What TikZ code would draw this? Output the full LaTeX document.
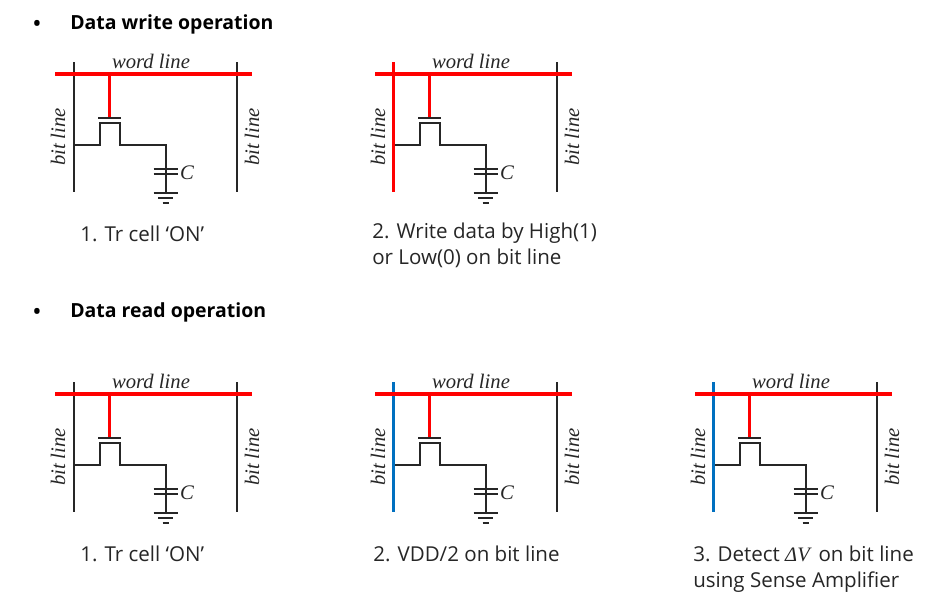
\documentclass[tikz,border=0pt]{standalone}
\usepackage{fontspec}
\setmainfont{Open Sans}
\newfontfamily\cellfont{Liberation Serif}
\usetikzlibrary{positioning, calc}
\definecolor{inkred}{HTML}{FF0000}
\definecolor{inkblue}{HTML}{0070C0}
\definecolor{inkwire}{HTML}{262626}
\tikzset{
  wire/.style={inkwire, line width=1.5pt},
  platewire/.style={inkwire, line width=1.2pt},
  wordwire/.style={inkred, line width=2.6pt},
  bitred/.style={inkred, line width=2.6pt},
  bitblue/.style={inkblue, line width=2.4pt},
  celltext/.style={font=\cellfont\itshape\fontsize{15.5}{17}\selectfont, inner sep=0pt, text=inkwire},
  caption/.style={anchor=north west, align=left, inner sep=0pt, text=inkwire,
                  font=\fontsize{15.4}{19.4}\selectfont},
  heading/.style={anchor=west, inner sep=0pt, text=black,
                  font=\bfseries\fontsize{14.6}{15}\selectfont}
}
% one memory cell: #1 left bit line style, #2 name, #3 shift
\newcommand{\dramcell}[3][wire]{%
  \begin{scope}[shift={(#3)}]
    \coordinate (#2bla) at (73.5,62);
    \coordinate (#2blb) at (73.5,192);
    \coordinate (#2bra) at (237,62);
    \coordinate (#2brb) at (237,192);
    \coordinate (#2wla) at (55,74);
    \coordinate (#2wlb) at (252,74);
    \coordinate (#2gate) at (109.5,74);
    \coordinate (#2gt) at (109.5,117);
    \coordinate (#2src) at (73.5,145);
    \coordinate (#2top) at (166,145);
    \coordinate (#2gnd) at (166,193);
    \draw[wire] (#2bra) -- (#2brb);
    \draw[wire] (#2src) -| (99.5,122.5) -- (120,122.5) |- (#2top) -- (#2gnd);
    \draw[platewire] (98,118) -- (121,118);
    \draw[#1] (#2bla) -- (#2blb);
    \draw[wordwire] (#2wla) -- (#2wlb);
    \draw[wordwire] (#2gate) -- (#2gt);
    \draw[wire] (153.5,169) -- (177.5,169);
    \draw[wire] (153.5,174) -- (177.5,174);
    \draw[wire] (153.5,193) -- (177.5,193);
    \draw[wire] (158,198) -- (173,198);
    \draw[wire] (162.5,202.5) -- (168.5,202.5);
    \node[celltext] (#2word) at (151,61) {word line};
    \node[celltext, rotate=90] (#2bitl) at (58,137) {bit line};
    \node[celltext, rotate=90] (#2bitr) at (252,137) {bit line};
    \node[celltext] (#2cap) at (187,173) {C};
  \end{scope}}

\begin{document}
\begin{tikzpicture}[x=0.75pt, y=-0.75pt]
  \useasboundingbox[fill=white] (0,0) rectangle (938,601);
  \node[heading] (bulletw) at (33,25) {•};
  \node[heading] (titlew) at (70,24) {Data write operation};
  \node[heading] (bulletr) at (33,313) {•};
  \node[heading] (titler) at (70,312) {Data read operation};

  \dramcell{wa}{0,0}
  \dramcell[bitred]{wb}{320,0}
  \dramcell{ra}{0,320}
  \dramcell[bitblue]{rb}{320,320}
  \dramcell[bitblue]{rc}{640,320}

  \node[caption] (capwa) at (80,226) {1. Tr cell ‘ON’};
  \node[caption] (capwb) at (372,223) {2. Write data by High(1)\\or Low(0) on bit line};
  \node[caption] (capra) at (80,546) {1. Tr cell ‘ON’};
  \node[caption] (caprb) at (373,546) {2. VDD/2 on bit line};
  \node[caption] (caprc) at (693,546) {3. Detect {\cellfont\itshape ΔV}\, on bit line\\using Sense Amplifier};
\end{tikzpicture}
\end{document}
